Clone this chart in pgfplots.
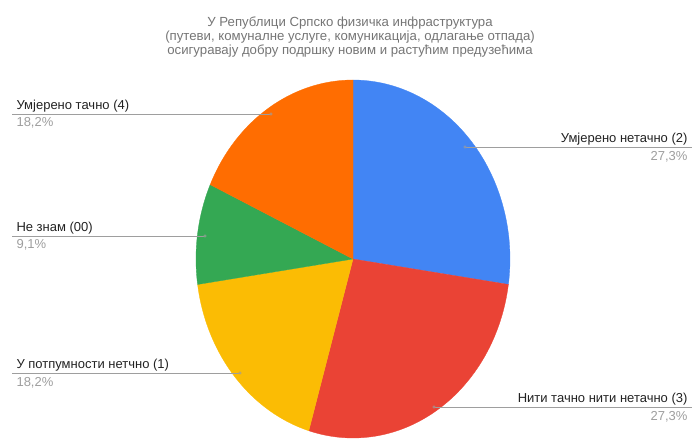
\documentclass[border=0pt]{standalone}
\usepackage{pgfplots}
\pgfplotsset{compat=1.18}
\usepackage{fontspec}
\setmainfont{Liberation Sans}
\definecolor{cblue}{HTML}{4285F4}
\definecolor{cred}{HTML}{EA4335}
\definecolor{cyellow}{HTML}{FBBC04}
\definecolor{cgreen}{HTML}{34A853}
\definecolor{corange}{HTML}{FF6D01}
\definecolor{ctitle}{HTML}{757575}
\definecolor{clabel}{HTML}{222222}
\definecolor{cpct}{HTML}{9E9E9E}
\definecolor{cline}{HTML}{9E9E9E}
% slice shares (percent)
\def\pA{27.3}\def\pB{27.3}\def\pC{18.2}\def\pD{9.1}\def\pE{18.2}
\pgfmathsetmacro{\tot}{\pA+\pB+\pC+\pD+\pE}
\pgfmathsetmacro{\aO}{90}
\pgfmathsetmacro{\aA}{\aO-\pA/\tot*360}
\pgfmathsetmacro{\aB}{\aA-\pB/\tot*360}
\pgfmathsetmacro{\aC}{\aB-\pC/\tot*360}
\pgfmathsetmacro{\aD}{\aC-\pD/\tot*360}
\pgfmathsetmacro{\aE}{\aD-\pE/\tot*360}
\def\cx{353}\def\cy{259}\def\rx{157}\def\ry{179}
\newcommand{\slice}[3]{%
  \addplot[fill=#3, draw=#3, line width=0.3pt, domain=#2:#1, samples=90, variable=\t]
    ({\cx+\rx*cos(\t)}, {\cy-\ry*sin(\t)}) -- (axis cs:\cx,\cy) -- cycle;}
\newcommand{\lf}{\fontsize{13}{15}\selectfont}
\newcommand{\tf}{\fontsize{13.2}{15}\selectfont}
\begin{document}
\begin{tikzpicture}
\begin{axis}[
  at={(0,0)}, anchor=south west,
  width=694pt, height=441pt, scale only axis,
  xmin=0, xmax=694, ymin=0, ymax=441, y dir=reverse,
  hide axis, clip=false,
  every node/.style={inner sep=0pt, outer sep=0pt},
]
\path (axis cs:0,0) rectangle (axis cs:694,441);
\slice{\aO}{\aA}{cblue}
\slice{\aA}{\aB}{cred}
\slice{\aB}{\aC}{cyellow}
\slice{\aC}{\aD}{cgreen}
\slice{\aD}{\aE}{corange}
% leader lines
\addplot[cline, line width=0.8pt] coordinates {(465,147) (692,147)};
\addplot[cline, line width=0.8pt] coordinates {(434,407) (692,407)};
\addplot[cline, line width=0.8pt] coordinates {(12,373) (240,373)};
\addplot[cline, line width=0.8pt] coordinates {(12,236) (205,236)};
\addplot[cline, line width=0.8pt] coordinates {(12,114) (271,114)};
\addplot[only marks, mark=*, mark size=1.4pt, color=cline!70!cblue] coordinates {(465,147)};
\addplot[only marks, mark=*, mark size=1.4pt, color=cline!70!cred] coordinates {(434,407)};
\addplot[only marks, mark=*, mark size=1.4pt, color=cline!70!cyellow] coordinates {(240,373)};
\addplot[only marks, mark=*, mark size=1.4pt, color=cline!70!cgreen] coordinates {(205,236)};
\addplot[only marks, mark=*, mark size=1.4pt, color=cline!70!corange] coordinates {(271,114)};
% title
\node[anchor=base, text=ctitle, font=\tf] at (axis cs:350,27) {У Републици Српско физичка инфраструктура};
\node[anchor=base, text=ctitle, font=\tf] at (axis cs:350,41) {(путеви, комуналне услуге, комуникација, одлагање отпада)};
\node[anchor=base, text=ctitle, font=\tf] at (axis cs:350,55) {осигуравају добру подршку новим и растућим предузећима};
% labels
\node[anchor=base east, text=clabel, font=\lf] at (axis cs:691,143) {Умјерено нетачно (2)};
\node[anchor=base east, text=cpct, font=\lf] at (axis cs:691,161) {27,3\%};
\node[anchor=base east, text=clabel, font=\lf] at (axis cs:691,402) {Нити тачно нити нетачно (3)};
\node[anchor=base east, text=cpct, font=\lf] at (axis cs:691,420) {27,3\%};
\node[anchor=base west, text=clabel, font=\lf] at (axis cs:13,368) {У потпумности нетчно (1)};
\node[anchor=base west, text=cpct, font=\lf] at (axis cs:13,386) {18,2\%};
\node[anchor=base west, text=clabel, font=\lf] at (axis cs:13,231) {Не знам (00)};
\node[anchor=base west, text=cpct, font=\lf] at (axis cs:13,248) {9,1\%};
\node[anchor=base west, text=clabel, font=\lf] at (axis cs:13,110) {Умјерено тачно (4)};
\node[anchor=base west, text=cpct, font=\lf] at (axis cs:13,127) {18,2\%};
\end{axis}
\end{tikzpicture}
\end{document}
